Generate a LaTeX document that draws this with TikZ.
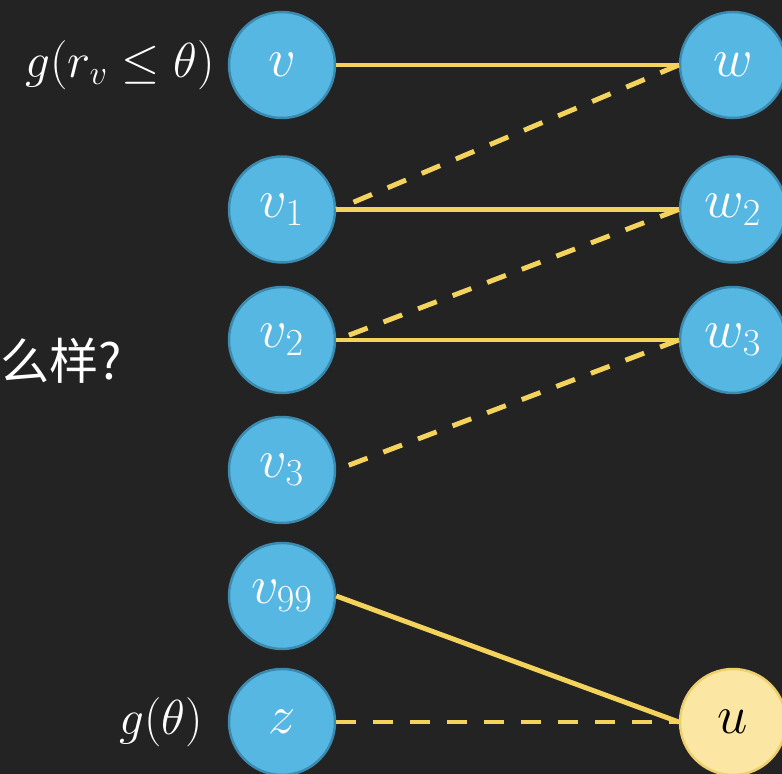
\RequirePackage{fix-cm}
\documentclass[tikz,border=0pt]{standalone}
\usepackage{amsmath,amssymb}
\usepackage{fontspec}
\newfontfamily\cjkfont{Noto Sans CJK SC}
\usetikzlibrary{arrows.meta,calc}
\definecolor{board}{HTML}{232323}
\definecolor{vfill}{HTML}{56B8E2}
\definecolor{vedge}{HTML}{3B8AB0}
\definecolor{ufill}{HTML}{FBE6A4}
\definecolor{uedge}{HTML}{EFCF6A}
\definecolor{linkcol}{HTML}{F4D35C}

\begin{document}
\begin{tikzpicture}[font=\fontsize{28}{34}\selectfont,
  vtx/.style={circle,draw=vedge,fill=vfill,line width=1.4pt,minimum size=2.12cm,inner sep=0pt,text=white,font=\fontsize{31}{36}\selectfont},
  utx/.style={vtx,draw=uedge,fill=ufill,text=black},
  link/.style={line width=2.8pt,draw=linkcol},
  dlink/.style={link,dash pattern=on 0.4cm off 0.34cm}]
  \fill[board] (0,0) rectangle (15.64,15.48);
  \useasboundingbox (0,0) rectangle (15.64,15.48);
  % left column
  \node[vtx] (v)   at (5.64,14.18) {$v$};
  \node[vtx] (v1)  at (5.64,11.29) {$v_1$};
  \node[vtx] (v2)  at (5.64,8.68)  {$v_2$};
  \node[vtx] (v3)  at (5.64,6.08)  {$v_3$};
  \node[vtx] (v99) at (5.64,3.56)  {$v_{99}$};
  \node[vtx] (z)   at (5.64,1.04)  {$z$};
  % right column
  \node[vtx] (w)  at (14.66,14.18) {$w$};
  \node[vtx] (w2) at (14.66,11.29) {$w_2$};
  \node[vtx] (w3) at (14.66,8.68)  {$w_3$};
  \node[utx] (u)  at (14.66,1.04)  {$u$};
  % labels
  \node[anchor=east,text=white] (gv) at (4.42,14.18) {$g(r_v \leq \theta)$};
  \node[anchor=east,text=white] (gz) at (4.18,1.04) {$g(\theta)$};
  \node[anchor=west,text=white,inner sep=0pt] (ask) at (0,8.26) {\cjkfont 么样?};
  % edges
  \draw[link] (v.east)--(w.west);
  \draw[link] (v1.east)--(w2.west);
  \draw[link] (v2.east)--(w3.west);
  \draw[link] (v99.east)--(u.west);
  \draw[dlink] (w.west)--(v1.east);
  \draw[dlink] (w2.west)--(v2.east);
  \draw[dlink] (w3.west)--(v3.east);
  \draw[dlink] (z.east)--(u.west);
\end{tikzpicture}
\end{document}
